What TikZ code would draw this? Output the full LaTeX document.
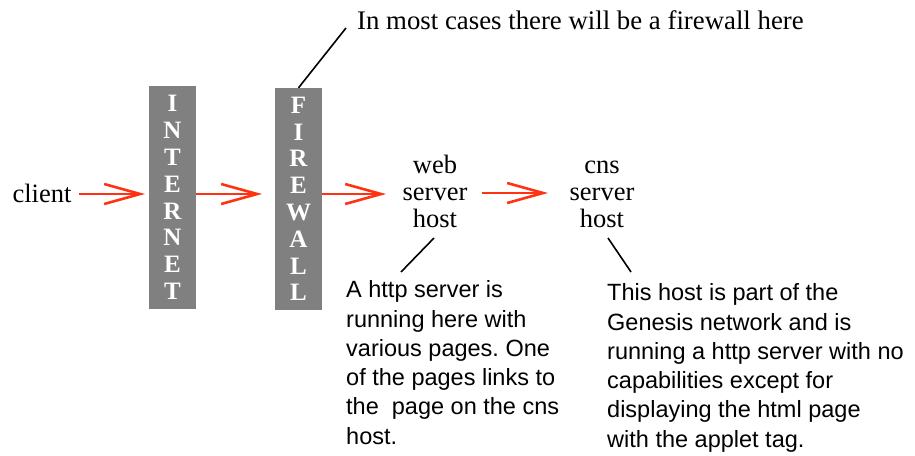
\documentclass[tikz,border=0pt]{standalone}
\usepackage{fontspec}
\setmainfont{Liberation Serif}
\setsansfont{Liberation Sans}
\usetikzlibrary{arrows.meta}
\definecolor{flowred}{HTML}{FF3311}
\definecolor{bargray}{HTML}{808080}
\frenchspacing
\begin{document}
\begin{tikzpicture}[x=1pt,y=-1pt,
  serif/.style={font=\fontsize{26.5}{27}\selectfont, align=center, inner sep=0pt},
  bar/.style={fill=bargray, minimum width=47pt, inner sep=0pt, text=white,
    font=\bfseries\fontsize{25}{26.8}\selectfont, align=center},
  flow/.style={draw=flowred, line width=2.6pt,
    -{Straight Barb[length=36pt,width=20pt,line width=2.6pt]}},
  callout/.style={draw=black, line width=1.6pt},
  note/.style={font=\sffamily\fontsize{23.5}{29.3}\selectfont, align=left,
    inner sep=0pt, anchor=north west}]
\useasboundingbox (0,0) rectangle (915,455);

\node[serif, anchor=base] (client) at (42,202) {client};
\node[bar, minimum height=223pt] (inet) at (172.5,197.5) {I\\N\\T\\E\\R\\N\\E\\T};
\node[bar, minimum height=222pt] (fw) at (298.5,199) {F\\I\\R\\E\\W\\A\\L\\L};
\node[serif, anchor=north] (web) at (435,154) {\strut web\\server\\host};
\node[serif, anchor=north] (cns) at (602,154) {\strut cns\\server\\host};
\node[serif, anchor=base west, font=\fontsize{26.8}{27}\selectfont] (fwnote) at (357,29) {In most cases there will be a firewall here};
\node[note] (webnote) at (346,277) {\strut A http server is\\running here with\\various pages. One\\of the pages links to\\the~~page on the cns\\host.};
\node[note] (cnsnote) at (607,280) {\strut This host is part of the\\Genesis network and is\\running a http server with no\\capabilities except for\\displaying the html page\\with the applet tag.};

\coordinate (fwtip) at (346,28);
\coordinate (w1) at (434,238);
\coordinate (w2) at (401,272);
\coordinate (c1) at (608,238);
\coordinate (c2) at (631,272);

\draw[flow] (79,194) -- (145,194);
\draw[flow] (inet.east |- 0,194) -- (262,194);
\draw[flow] (fw.east |- 0,194) -- (386,194);
\draw[flow] (482,193) -- (548,193);

\draw[callout] (fw.north) -- (fwtip);
\draw[callout] (w1) -- (w2);
\draw[callout] (c1) -- (c2);
\end{tikzpicture}
\end{document}
